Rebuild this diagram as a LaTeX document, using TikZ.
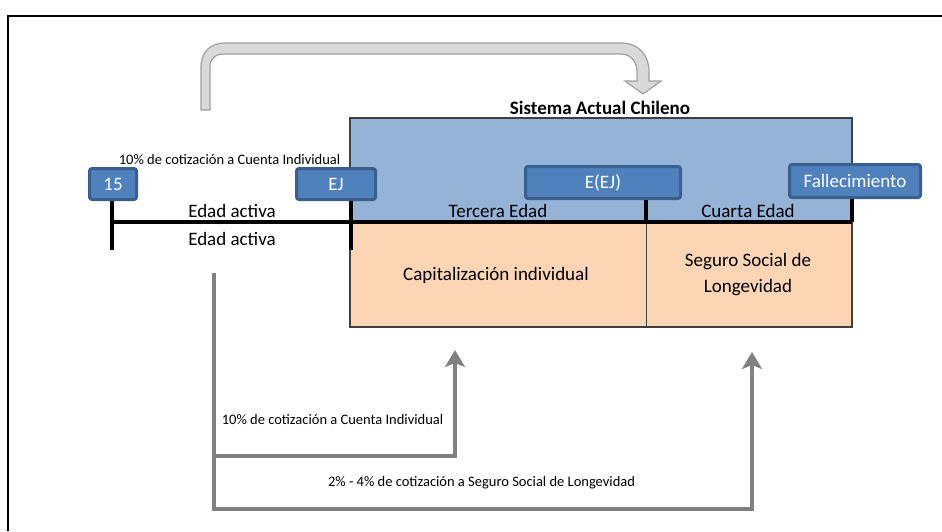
\documentclass[tikz,border=0pt]{standalone}
\usepackage{fontspec}
\setmainfont{Carlito}
\usepackage{tikz}
\usetikzlibrary{positioning, arrows.meta}
\definecolor{boxBlue}{HTML}{4F81BD}
\definecolor{boxEdge}{HTML}{3A5F8F}
\definecolor{phaseBlue}{HTML}{95B3D7}
\definecolor{phaseOrange}{HTML}{FCD5B5}
\definecolor{rectEdge}{HTML}{404040}
\definecolor{flowGray}{HTML}{808080}
\definecolor{bendFill}{HTML}{D9D9D9}
\definecolor{bendEdge}{HTML}{A0A0A0}

\tikzset{
  agebox/.style={fill=boxBlue, draw=boxEdge, line width=3pt, rounded corners=2.5pt,
                 text=white, inner sep=0pt, font=\fontsize{19}{22}\selectfont},
  maintext/.style={inner sep=0pt, font=\fontsize{19}{22}\selectfont},
  smalltext/.style={inner sep=0pt, font=\fontsize{14.5}{17}\selectfont},
  timeline/.style={line width=3.5pt},
  flow/.style={draw=flowGray, line width=4pt, -{Stealth[length=17pt, width=20pt, inset=4pt]}},
}

\begin{document}
\begin{tikzpicture}[x=1pt, y=-1pt]
  \useasboundingbox (0,0) rectangle (942,531);
  \draw[line width=2pt] (8,531) -- (8,16) -- (942,16);

  % curved hollow arrow
  \draw[draw=bendEdge, fill=bendFill, line width=1.2pt]
    (201,110) -- (201,66) .. controls (201,53) and (210,43) .. (224,43)
    -- (622,43) .. controls (638,43) and (649,55) .. (649,71)
    -- (649,81) -- (661,81) -- (643,94) -- (625,81) -- (637,81)
    -- (637,72) .. controls (637,62) and (631,54) .. (621,54)
    -- (224,54) .. controls (215,54) and (210,59) .. (210,67)
    -- (210,110) -- cycle;

  \node[maintext, font=\fontsize{19}{22}\selectfont\bfseries] (title) at (600,108) {Sistema Actual Chileno};

  % phases
  \draw[fill=phaseBlue, draw=rectEdge, line width=1.5pt] (350,118) rectangle (852,222);
  \draw[fill=phaseOrange, draw=rectEdge, line width=1.5pt] (350,222) rectangle (852,327);
  \draw[draw=rectEdge, line width=1pt] (646,222) -- (646,327);

  \node[smalltext] (cuentaTop) at (229.5,160) {10\% de cotización a Cuenta Individual};

  \node[agebox, minimum width=47pt, minimum height=31pt] (age15) at (113,184) {15};
  \node[agebox, minimum width=79pt, minimum height=31pt] (ageEJ) at (336,184) {EJ};
  \node[agebox, minimum width=155pt, minimum height=32pt] (ageEEJ) at (603,182.5) {E(EJ)};
  \node[agebox, minimum width=131pt, minimum height=33pt] (ageDeath) at (855,181) {Fallecimiento};

  % timeline
  \coordinate (tStart) at (112,222);
  \coordinate (tEJ) at (351,222);
  \coordinate (tEEJ) at (646,222);
  \coordinate (tEnd) at (852,222);
  \draw[timeline] (tStart) -- (tEnd);
  \draw[timeline] (tStart |- age15.south) -- (112,250);
  \draw[timeline] (tEJ |- ageEJ.south) -- (351,250);
  \draw[timeline] (tEEJ |- ageEEJ.south) -- (tEEJ);
  \draw[timeline] (tEnd |- ageDeath.south) -- (tEnd);

  \node[maintext] (activeUp) at (232,211) {Edad activa};
  \node[maintext] (activeDown) at (232,239) {Edad activa};
  \node[maintext] (third) at (498,211) {Tercera Edad};
  \node[maintext] (fourth) at (748,211) {Cuarta Edad};
  \node[maintext] (capital) at (496,275) {Capitalización individual};
  \node[maintext, align=center, font=\fontsize{19}{26}\selectfont] (seguro) at (748,275) {Seguro Social de\\Longevidad};

  % contributions
  \coordinate (src) at (214,273);
  \coordinate (capIn) at (455,350);
  \coordinate (segIn) at (752,352);
  \draw[flow] (src) -- (src |- 0,509) -| (segIn);
  \draw[flow] (src |- 0,456) -| (capIn);

  \node[smalltext] (cuentaLow) at (332.5,420) {10\% de cotización a Cuenta Individual};
  \node[smalltext] (seguroLow) at (481.5,483) {2\% - 4\% de cotización a Seguro Social de Longevidad};
\end{tikzpicture}
\end{document}
